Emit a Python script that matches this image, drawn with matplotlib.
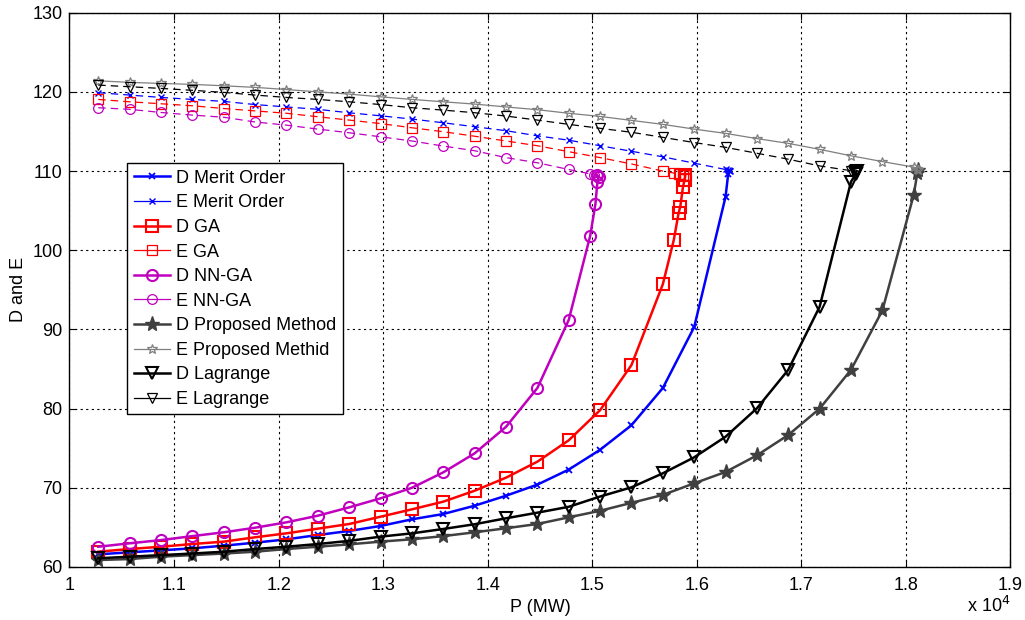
import matplotlib
matplotlib.use('Agg')
import matplotlib.pyplot as plt
from matplotlib.lines import Line2D

plt.rcParams['font.family'] = ['Liberation Sans', 'DejaVu Sans']

# load steps shared by all methods (MW)
P_base = [10275, 10575, 10875, 11175, 11475, 11775, 12075, 12375, 12675, 12975,
          13275, 13575, 13875, 14175, 14475, 14775, 15075, 15375, 15675, 15975,
          16275, 16575, 16875, 17175, 17475, 17775, 18075]

# Merit Order
P_merit_D = P_base[:21] + [16300, 16315]
D_merit = [61.6, 61.85, 62.1, 62.36, 62.69, 63.07, 63.49, 64.04, 64.55, 65.18, 66.02,
           66.69, 67.74, 69.0, 70.4, 72.3, 74.8, 77.9, 82.6, 90.3, 106.75, 109.6, 110.0]
P_merit_E = P_base[:21] + [16300, 16315]
E_merit = [119.9, 119.6, 119.3, 119.05, 118.8, 118.4, 118.1, 117.8, 117.36, 116.98, 116.57,
           116.1, 115.6, 115.1, 114.45, 113.9, 113.2, 112.5, 111.8, 111.0, 110.2, 110.08, 110.0]

# GA
P_ga_D = P_base[:19] + [15780, 15826, 15842, 15868, 15883, 15890]
D_ga = [61.93, 62.27, 62.56, 62.9, 63.2, 63.75, 64.25, 64.84, 65.43, 66.35, 67.28, 68.25,
        69.63, 71.28, 73.3, 76.0, 79.8, 85.5, 95.7, 101.3, 104.7, 105.5, 108.0, 108.9, 109.5]
P_ga_E = P_base[:19] + [15780, 15826, 15842, 15868, 15883, 15890]
E_ga = [119.05, 118.75, 118.5, 118.25, 117.9, 117.6, 117.3, 116.86, 116.44, 116.0, 115.47,
        114.97, 114.4, 113.8, 113.2, 112.45, 111.7, 110.9, 110.0, 109.75, 109.65, 109.6,
        109.55, 109.5, 109.5]

# NN-GA
P_nnga_D = P_base[:16] + [14980, 15030, 15050, 15060, 15045]
D_nnga = [62.56, 62.99, 63.4, 63.9, 64.38, 64.96, 65.64, 66.48, 67.53, 68.67, 70.0, 71.95,
          74.35, 77.7, 82.6, 91.2, 101.8, 105.8, 108.65, 109.3, 109.5]
P_nnga_E = P_base[:16] + [14980, 15020, 15045]
E_nnga = [118.0, 117.8, 117.4, 117.07, 116.8, 116.2, 115.8, 115.3, 114.84, 114.33, 113.8,
          113.16, 112.57, 111.7, 111.05, 110.2, 109.65, 109.55, 109.5]

# Proposed method
P_prop_D = P_base[:27] + [18110, 18120]
D_prop = [60.88, 61.0, 61.3, 61.5, 61.7, 61.93, 62.27, 62.56, 62.86, 63.2, 63.5, 63.9,
          64.38, 64.89, 65.43, 66.27, 67.1, 68.1, 69.1, 70.57, 72.0, 74.1, 76.67, 80.0,
          84.9, 92.4, 107.0, 109.8, 110.1]
P_prop_E = P_base[:27] + [18110, 18120]
E_prop = [121.4, 121.2, 121.07, 120.95, 120.77, 120.57, 120.3, 120.0, 119.72, 119.38,
          119.05, 118.75, 118.46, 118.1, 117.75, 117.3, 116.9, 116.4, 115.9, 115.3, 114.76,
          114.1, 113.5, 112.74, 111.93, 111.2, 110.5, 110.2, 110.1]

# Lagrange
P_lag_D = P_base[:25] + [17520, 17525, 17530]
D_lag = [61.1, 61.3, 61.5, 61.7, 61.93, 62.27, 62.56, 62.9, 63.3, 63.83, 64.25, 64.8,
         65.4, 66.15, 66.86, 67.6, 68.9, 70.06, 71.83, 73.85, 76.45, 80.04, 84.9, 92.87,
         108.65, 109.6, 109.9, 110.0]
P_lag_E = P_base[:25] + [17520, 17530]
E_lag = [120.86, 120.65, 120.44, 120.2, 119.94, 119.6, 119.3, 119.05, 118.75, 118.4,
         118.0, 117.7, 117.37, 116.95, 116.44, 115.9, 115.4, 114.9, 114.26, 113.6, 113.0,
         112.25, 111.5, 110.65, 110.05, 110.0, 110.0]

xtick_vals = [1, 1.1, 1.2, 1.3, 1.4, 1.5, 1.6, 1.7, 1.8, 1.9]
xtick_labels = ['1', '1.1', '1.2', '1.3', '1.4', '1.5', '1.6', '1.7', '1.8', '1.9']
ytick_vals = [60, 70, 80, 90, 100, 110, 120, 130]


def scaled(p):
    return [v / 1e4 for v in p]


fig = plt.figure(figsize=(10.25, 6.2), dpi=100)
ax = fig.add_axes([0.0678, 0.0855, 0.918, 0.894])

magenta = '#bf00bf'
dgray = '#404040'
lgray = '#7f7f7f'

# (x, y, label, style)
series = [
    (P_merit_D, D_merit, 'D Merit Order', dict(color='blue', ls='-', lw=1.8, marker='x', ms=4, mew=1.3)),
    (P_merit_E, E_merit, 'E Merit Order', dict(color='blue', ls='--', lw=0.9, marker='x', ms=4, mew=1.0)),
    (P_ga_D, D_ga, 'D GA', dict(color='red', ls='-', lw=1.8, marker='s', ms=8, mew=1.5, mfc='none')),
    (P_ga_E, E_ga, 'E GA', dict(color='red', ls='--', lw=0.9, marker='s', ms=7, mew=0.9, mfc='none')),
    (P_nnga_D, D_nnga, 'D NN-GA', dict(color=magenta, ls='-', lw=1.8, marker='o', ms=8, mew=1.5, mfc='none')),
    (P_nnga_E, E_nnga, 'E NN-GA', dict(color=magenta, ls='--', lw=0.9, marker='o', ms=7, mew=0.9, mfc='none')),
    (P_prop_D, D_prop, 'D Proposed Method', dict(color=dgray, ls='-', lw=1.8, marker='*', ms=11, mew=1.0)),
    (P_prop_E, E_prop, 'E Proposed Methid', dict(color=lgray, ls='-', lw=0.9, marker='*', ms=7, mew=0.9, mfc='none')),
    (P_lag_D, D_lag, 'D Lagrange', dict(color='black', ls='-', lw=1.8, marker='v', ms=8, mew=1.5, mfc='none')),
    (P_lag_E, E_lag, 'E Lagrange', dict(color='black', ls='--', lw=0.9, marker='v', ms=7, mew=0.9, mfc='none')),
]

handles = []
for p, y, label, st in series:
    ax.plot(scaled(p), y, dashes=(6, 4) if st['ls'] == '--' else (None, None), **st)
    hst = dict(st)
    hst['ls'] = '-'
    handles.append(Line2D([], [], label=label, **hst))

ax.set_xlim(1, 1.9)
ax.set_ylim(60, 130)
ax.set_xticks(xtick_vals)
ax.set_xticklabels(xtick_labels)
ax.set_yticks(ytick_vals)
ax.tick_params(direction='in', top=True, right=True, labelsize=13, length=5, width=0.8)
ax.tick_params(axis='x', pad=7)
ax.tick_params(axis='y', pad=5)
ax.grid(True, color='black', linestyle=(0, (2, 3)), linewidth=0.8)
for s in ax.spines.values():
    s.set_linewidth(1.0)

ax.set_xlabel('P (MW)', fontsize=13, labelpad=4)
ax.set_ylabel('D and E', fontsize=13, labelpad=4)
ax.text(1.0, -0.052, 'x 10$^4$', transform=ax.transAxes, ha='right', va='top', fontsize=13)

leg = ax.legend(handles=handles, loc='upper left', bbox_to_anchor=(0.0616, 0.728),
                fontsize=13, frameon=True, fancybox=False, edgecolor='black',
                framealpha=1, borderpad=0.35, labelspacing=0.42, handlelength=2.0,
                handletextpad=0.35, borderaxespad=0)
leg.get_frame().set_linewidth(1.0)

fig.savefig('out.png', dpi=100)
